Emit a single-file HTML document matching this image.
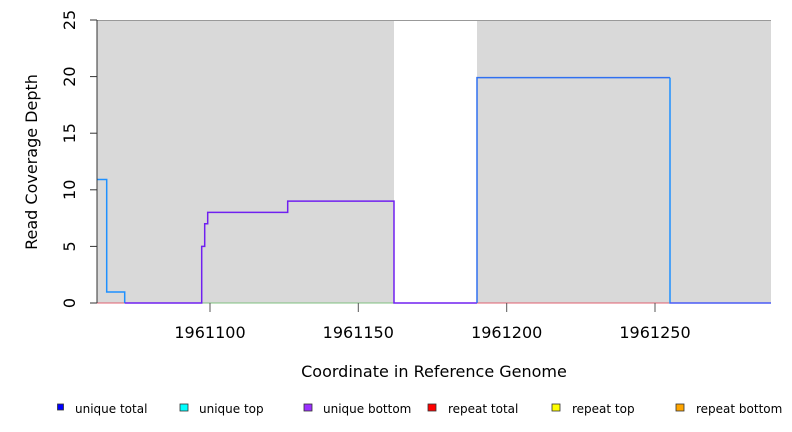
<!DOCTYPE html>
<html><head><meta charset="utf-8"><style>
html,body{margin:0;padding:0;background:#fff;}
svg{display:block;font-family:"DejaVu Sans","Liberation Sans",sans-serif;}
</style></head><body>
<svg width="792" height="432" viewBox="0 0 792 432" xmlns="http://www.w3.org/2000/svg">
<rect x="97" y="20" width="297" height="283" fill="#d9d9d9"/>
<rect x="477" y="20" width="294" height="283" fill="#d9d9d9"/>
<line x1="97" y1="20.5" x2="771" y2="20.5" stroke="#999" stroke-width="1"/>
<line x1="97" y1="303" x2="124" y2="303" stroke="#e06070" stroke-width="1"/>
<line x1="124" y1="303" x2="394" y2="303" stroke="#80c080" stroke-width="1"/>
<line x1="477" y1="303" x2="771" y2="303" stroke="#e06070" stroke-width="1"/>
<polyline fill="none" stroke="#1e90ff" stroke-width="1.5" points="97,179.5 106.7,179.5 106.7,292 124.7,292 124.7,303"/>
<polyline fill="none" stroke="#7020f0" stroke-width="1.5" points="124.7,303 201.7,303 201.7,246.4 204.7,246.4 204.7,223.8 207.7,223.8 207.7,212.4 287.7,212.4 287.7,201.1 394,201.1 394,303 477,303"/>
<polyline fill="none" stroke="#3070f0" stroke-width="1.5" points="477,303 477,77.6 670,77.6"/>
<polyline fill="none" stroke="#1e90ff" stroke-width="1.5" points="670,77.6 670,303 771,303"/>
<line x1="670" y1="303" x2="771" y2="303" stroke="#6040f0" stroke-width="1"/>
<line x1="97" y1="20" x2="97" y2="303" stroke="#333" stroke-width="1"/>
<g stroke="#333" stroke-width="1">
<line x1="90" y1="303" x2="97" y2="303"/><line x1="90" y1="246.4" x2="97" y2="246.4"/>
<line x1="90" y1="189.8" x2="97" y2="189.8"/><line x1="90" y1="133.2" x2="97" y2="133.2"/>
<line x1="90" y1="76.6" x2="97" y2="76.6"/><line x1="90" y1="20" x2="97" y2="20"/>
</g>
<g font-size="16" fill="#000" text-anchor="middle">
<text transform="translate(75,303) rotate(-90)">0</text>
<text transform="translate(75,246.4) rotate(-90)">5</text>
<text transform="translate(75,189.8) rotate(-90)">10</text>
<text transform="translate(75,133.2) rotate(-90)">15</text>
<text transform="translate(75,76.6) rotate(-90)">20</text>
<text transform="translate(75,20) rotate(-90)">25</text>
<text transform="translate(37,162) rotate(-90)">Read Coverage Depth</text>
</g>
<g stroke="#555" stroke-width="1">
<line x1="210" y1="303" x2="210" y2="312"/><line x1="358.3" y1="303" x2="358.3" y2="312"/>
<line x1="506.7" y1="303" x2="506.7" y2="312"/><line x1="655" y1="303" x2="655" y2="312"/>
</g>
<g font-size="16" fill="#000" text-anchor="middle">
<text x="210" y="338">1961100</text>
<text x="358.3" y="338">1961150</text>
<text x="506.7" y="338">1961200</text>
<text x="655" y="338">1961250</text>
<text x="434" y="377">Coordinate in Reference Genome</text>
</g>
<g stroke="#333" stroke-width="0.8">
<rect x="57.5" y="404" width="6" height="6" fill="#0000ff"/>
<rect x="180" y="404" width="8" height="7" fill="#00ffff"/>
<rect x="304" y="404" width="8" height="7" fill="#9b30ff"/>
<rect x="428" y="404" width="8" height="7" fill="#ff0000"/>
<rect x="552" y="404" width="8" height="7" fill="#ffff00"/>
<rect x="676" y="404" width="8" height="7" fill="#ffa500"/>
</g>
<g font-size="12" fill="#000">
<text x="75" y="413">unique total</text>
<text x="199" y="413">unique top</text>
<text x="323" y="413">unique bottom</text>
<text x="448" y="413">repeat total</text>
<text x="572" y="413">repeat top</text>
<text x="696" y="413">repeat bottom</text>
</g>
</svg>
</body></html>
